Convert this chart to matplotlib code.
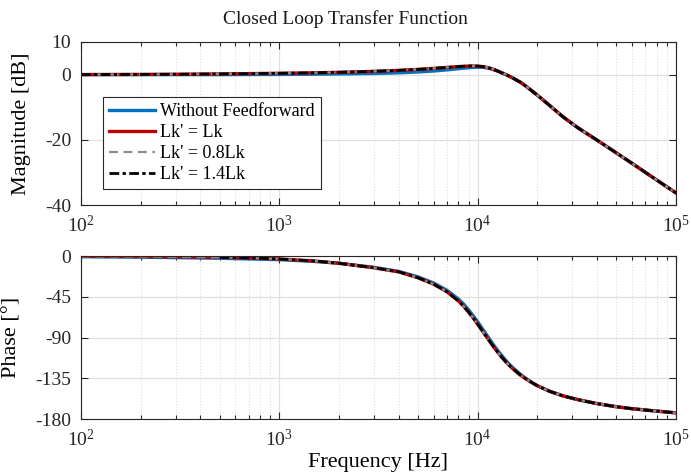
import matplotlib
matplotlib.use("Agg")
import matplotlib.pyplot as plt
from matplotlib.ticker import LogLocator, NullFormatter, FixedLocator

plt.rcParams['font.family'] = ['Liberation Serif', 'DejaVu Serif']
plt.rcParams['mathtext.fontset'] = 'custom'
plt.rcParams['mathtext.rm'] = 'Liberation Serif'
plt.rcParams['mathtext.it'] = 'Liberation Serif:italic'
plt.rcParams['axes.unicode_minus'] = False

# Frequency points [Hz]
freq = [100, 200, 300, 500, 700, 1000, 1500, 2000, 3000, 4000, 5000, 6000,
        7000, 8000, 8500, 9000, 9500, 10000, 10500, 11000, 11500, 12000, 12500,
        13000, 14000, 15000, 16500, 18000, 20000, 23000, 27000, 32000, 40000,
        50000, 60000, 75000, 100000]

# Magnitude [dB]
mag_noff = [0.0, 0.0, 0.0, 0.0, 0.02, 0.05, 0.12, 0.2, 0.35, 0.55, 0.8, 1.1,
            1.45, 1.8, 1.97, 2.1, 2.22, 2.28, 2.25, 2.12, 1.88, 1.52, 1.15,
            0.72, -0.1, -1.0, -2.4, -4.1, -6.3, -9.4, -13.0, -16.3, -20.1,
            -24.0, -27.2, -31.2, -36.3]
mag_lk = [0.0, 0.05, 0.1, 0.2, 0.3, 0.4, 0.55, 0.7, 1.0, 1.3, 1.6, 1.9,
          2.2, 2.45, 2.55, 2.62, 2.65, 2.6, 2.48, 2.3, 2.0, 1.6, 1.2,
          0.75, -0.1, -1.0, -2.4, -4.1, -6.3, -9.4, -13.0, -16.3, -20.1,
          -24.0, -27.2, -31.2, -36.3]
mag_08 = list(mag_lk)
mag_14 = list(mag_lk)

# Phase [deg]
ph_noff = [-0.8, -1.3, -1.8, -2.5, -3.2, -4.0, -6.0, -8.0, -12.5, -17.0, -23.0, -29.8,
           -37.8, -47.5, -53.0, -59.3, -66.0, -72.5, -79.3, -85.8, -92.0, -97.8, -103.0,
           -107.8, -116.3, -123.0, -131.0, -137.0, -143.2, -149.3, -154.5, -158.6, -163.0,
           -166.4, -168.6, -170.7, -173.2]
ph_lk = [-0.3, -0.6, -0.9, -1.5, -2.1, -3.3, -5.5, -8.0, -13.0, -17.5, -24.0, -31.1,
         -39.5, -49.6, -55.5, -61.9, -68.5, -75.2, -81.8, -88.2, -94.2, -99.9, -105.0,
         -109.8, -117.9, -124.3, -131.8, -137.5, -143.2, -149.3, -154.5, -158.6, -163.0,
         -166.4, -168.6, -170.7, -173.2]
ph_08 = list(ph_lk)
freq_14_ph = freq[3:]
ph_14 = ph_lk[3:]

mag_ticks = [-40, -20, 0, 10]
ph_ticks = [-180, -135, -90, -45, 0]

labels = ["Without Feedforward", "Lk' = Lk", "Lk' = 0.8Lk", "Lk' = 1.4Lk"]
c_blue = '#0072BD'
c_red = '#C00000'
c_gray = '#8C8C8C'

fig = plt.figure(figsize=(6.91, 4.74), dpi=100)
ax1 = fig.add_axes([0.1172, 0.5675, 0.861, 0.3439])
ax2 = fig.add_axes([0.1172, 0.116, 0.861, 0.3439])


def style(ax):
    ax.set_xscale('log')
    ax.set_xlim(1e2, 1e5)
    ax.xaxis.set_major_locator(LogLocator(base=10, numticks=10))
    ax.xaxis.set_minor_locator(LogLocator(base=10, subs=range(2, 10), numticks=10))
    ax.xaxis.set_minor_formatter(NullFormatter())
    ax.tick_params(which='both', direction='in', top=True, right=True,
                   labelsize=14, width=0.8, colors='#262626')
    ax.tick_params(which='major', length=5)
    ax.tick_params(which='minor', length=3)
    ax.tick_params(axis='x', which='major', pad=7)
    ax.tick_params(axis='y', which='major', pad=7)
    ax.grid(True, which='major', color='#E0E0E0', linewidth=0.9, linestyle='-')
    ax.grid(True, which='minor', color='#D8D8D8', linewidth=0.7, linestyle=(0, (1, 2)))
    ax.set_axisbelow(True)
    for s in ax.spines.values():
        s.set_color('#262626')
        s.set_linewidth(0.8)


style(ax1)
style(ax2)

h1, = ax1.plot(freq, mag_noff, color=c_blue, lw=2.4)
h2, = ax1.plot(freq, mag_lk, color=c_red, lw=2.4)
h3, = ax1.plot(freq, mag_08, color=c_gray, lw=1.6, ls=(0, (4, 2.5)))
h4, = ax1.plot(freq, mag_14, color='black', lw=2.0, ls=(0, (3.5, 1.2, 1.2, 1.2)))

ax2.plot(freq, ph_noff, color=c_blue, lw=2.4)
ax2.plot(freq, ph_lk, color=c_red, lw=2.4)
ax2.plot(freq, ph_08, color=c_gray, lw=1.6, ls=(0, (4, 2.5)))
ax2.plot(freq_14_ph, ph_14, color='black', lw=2.0, ls=(0, (3.5, 1.2, 1.2, 1.2)))

ax1.set_ylim(-40, 10)
ax1.yaxis.set_major_locator(FixedLocator(mag_ticks))
ax2.set_ylim(-180, 0)
ax2.yaxis.set_major_locator(FixedLocator(ph_ticks))

fig.suptitle('Closed Loop Transfer Function', fontsize=14, x=0.5, y=0.96,
             va='center', color='#1a1a1a')
ax1.set_ylabel('Magnitude [dB]', fontsize=16, labelpad=10)
ax2.set_ylabel('Phase [°]', fontsize=16, labelpad=10)
ax2.set_xlabel('Frequency [Hz]', fontsize=16, labelpad=2)
fig.align_ylabels([ax1, ax2])

leg = ax1.legend([h1, h2, h3, h4], labels, loc='upper left',
                 bbox_to_anchor=(0.037, 0.663), borderaxespad=0,
                 fontsize=13, frameon=True, fancybox=False, framealpha=1,
                 handlelength=2.55, handletextpad=0.25, labelspacing=0.22,
                 borderpad=0.35)
leg.get_frame().set_edgecolor('#262626')
leg.get_frame().set_linewidth(0.8)

fig.savefig('out.png', dpi=100)
